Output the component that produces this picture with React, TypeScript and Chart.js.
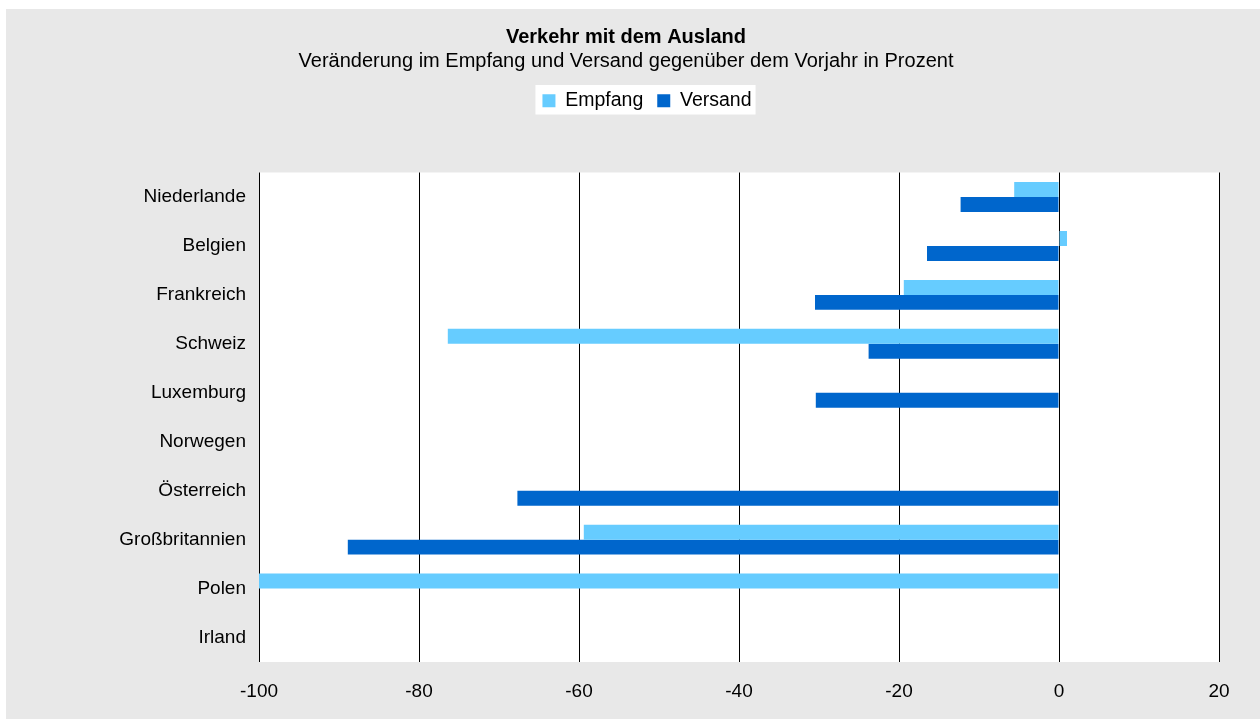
import React, { useEffect, useRef } from "react";
import { Chart, registerables } from "chart.js";

Chart.register(...registerables);

const categories = [
  "Niederlande",
  "Belgien",
  "Frankreich",
  "Schweiz",
  "Luxemburg",
  "Norwegen",
  "Österreich",
  "Großbritannien",
  "Polen",
  "Irland",
];

const empfang = [-5.6, 1.0, -19.4, -76.4, null, null, null, -59.4, -100, null];
const versand = [-12.3, -16.5, -30.5, -23.8, -30.4, null, -67.7, -88.9, null, null];

const xTicks = [-100, -80, -60, -40, -20, 0, 20];

const titleText = "Verkehr mit dem Ausland";
const subtitleText = "Veränderung im Empfang und Versand gegenüber dem Vorjahr in Prozent";

const FONT = "'Liberation Sans', Arial, Helvetica, sans-serif";

const legendShift = {
  id: "legendShift",
  afterLayout(chart: any) {
    const lg = chart.legend;
    if (lg) {
      lg.left += 21;
      lg.right += 21;
    }
  },
};

const plotBg = {
  id: "plotBg",
  beforeDraw(chart: any) {
    const { ctx, chartArea } = chart;
    ctx.save();
    ctx.fillStyle = "#ffffff";
    ctx.fillRect(chartArea.left, chartArea.top, chartArea.right - chartArea.left, chartArea.bottom - chartArea.top);
    const lg = chart.legend;
    if (lg && lg.legendHitBoxes && lg.legendHitBoxes.length) {
      const hb = lg.legendHitBoxes;
      let l = Infinity, r = -Infinity, t = Infinity, b = -Infinity;
      hb.forEach((h: any) => {
        l = Math.min(l, h.left);
        r = Math.max(r, h.left + h.width);
        t = Math.min(t, h.top);
        b = Math.max(b, h.top + h.height);
      });
      ctx.fillRect(l - 7, t - 6, r - l + 11, b - t + 10);
    }
    ctx.restore();
  },
};

export default function App() {
  const ref = useRef<HTMLCanvasElement>(null);
  useEffect(() => {
    if (!ref.current) return;
    const chart = new Chart(ref.current, {
      type: "bar",
      data: {
        labels: categories,
        datasets: [
          {
            label: "Empfang",
            data: empfang,
            backgroundColor: "#66ccff",
            borderWidth: 0,
            categoryPercentage: 0.612,
            barPercentage: 1,
            xAxisID: "x",
            yAxisID: "y",
          },
          {
            label: "Versand",
            data: versand,
            backgroundColor: "#0066cc",
            borderWidth: 0,
            categoryPercentage: 0.612,
            barPercentage: 1,
            xAxisID: "x",
            yAxisID: "y",
          },
        ],
      },
      options: {
        indexAxis: "y",
        animation: false,
        responsive: false,
        maintainAspectRatio: false,
        layout: { padding: { left: 0, right: 14, top: 0, bottom: 0 } },
        plugins: {
          tooltip: { enabled: false },
          title: {
            display: true,
            text: titleText,
            color: "#000",
            font: { family: FONT, size: 20, weight: "bold" },
            padding: { top: 16, bottom: 0 },
          },
          subtitle: {
            display: true,
            text: subtitleText,
            color: "#000",
            font: { family: FONT, size: 20 },
            padding: { top: 0, bottom: 4 },
          },
          legend: {
            display: true,
            position: "top",
            labels: {
              color: "#000",
              font: { family: FONT, size: 19.5 },
              boxWidth: 13,
              boxHeight: 13,
              padding: 14,
            },
          },
        },
        scales: {
          spacerTop: {
            type: "linear",
            axis: "x",
            position: "top",
            display: true,
            min: 0,
            max: 1,
            grid: { display: false, drawTicks: false },
            border: { display: false },
            ticks: { display: false },
            afterFit: (s: any) => {
              s.height = 52;
            },
          },
          spacerRight: {
            type: "linear",
            axis: "y",
            position: "right",
            display: true,
            min: 0,
            max: 1,
            grid: { display: false, drawTicks: false },
            border: { display: false },
            ticks: { display: false },
            afterFit: (s: any) => {
              s.width = 27;
            },
          },
          x: {
            type: "linear",
            axis: "x",
            position: "bottom",
            min: -100,
            max: 20,
            afterBuildTicks: (s: any) => {
              s.ticks = xTicks.map((v) => ({ value: v }));
            },
            grid: { color: "#000", lineWidth: 1, drawTicks: false },
            border: { display: false },
            ticks: {
              color: "#000",
              font: { family: FONT, size: 19 },
              padding: 18,
              callback: (v: any) => String(v),
            },
            afterFit: (s: any) => {
              s.height = 57;
            },
          },
          y: {
            type: "category",
            axis: "y",
            position: "left",
            grid: { display: false, drawTicks: false },
            border: { display: false },
            ticks: {
              color: "#000",
              font: { family: FONT, size: 19 },
              padding: 13,
            },
            afterFit: (s: any) => {
              s.width = 253;
            },
          },
        },
      },
      plugins: [legendShift, plotBg],
    });
    return () => chart.destroy();
  }, []);

  return (
    <div
      style={{
        position: "absolute",
        left: 6,
        top: 9,
        width: 1254,
        height: 710,
        background: "#e8e8e8",
      }}
    >
      <canvas ref={ref} width={1254} height={710} style={{ display: "block" }} />
    </div>
  );
}
